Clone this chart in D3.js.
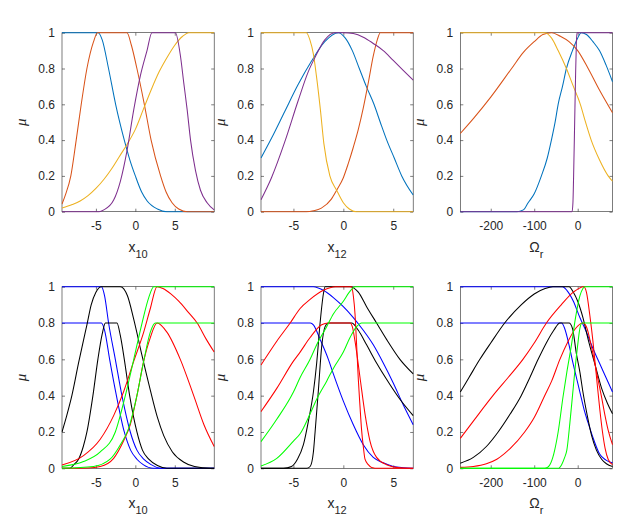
<!DOCTYPE html>
<html><head><meta charset="utf-8">
<script src="https://cdn.jsdelivr.net/npm/d3@7/dist/d3.min.js"></script>
<style>
body{margin:0;background:#fff}
svg text{font-family:"Liberation Sans",Arial,Helvetica,sans-serif;fill:#262626}
</style>
</head><body>
<svg id="c" width="633" height="530"></svg>
<script>
// ---------- axis settings ----------
const xDomainCol0 = [-9.3, 10];
const xDomainCol1 = [-8.25, 7];
const xDomainCol2 = [-270, 80];
const xTicksCol0 = [-5, 0, 5];
const xTicksCol1 = [-5, 0, 5];
const xTicksCol2 = [-200, -100, 0];
const yTicks = [0, 0.2, 0.4, 0.6, 0.8, 1];
const yTickLabels = ["0", "0.2", "0.4", "0.6", "0.8", "1"];
const xLabelMain = ["x", "x", "\u03A9"];
const xLabelSub = ["10", "12", "r"];
const yLabel = "\u03BC";

// ---------- top row, x10 ----------
const tl_blue = [[-9.3,1],[-4.7,1],[-4.2,0.96],[-3.4,0.8],[-2.5,0.6],[-1.4,0.4],[-0.7,0.29],[0,0.2],[0.8,0.11],[1.5,0.06],[2.8,0.015],[4,0],[10,0]];
const tl_orange = [[-9.3,0.043],[-8.9,0.09],[-8.18,0.2],[-7.5,0.4],[-6.86,0.6],[-6.14,0.8],[-5.3,0.95],[-4.8,1],[-1.06,1],[-0.5,0.93],[0.2,0.8],[1.14,0.6],[2.0,0.4],[3.2,0.2],[3.9,0.11],[4.66,0.05],[5.5,0.015],[6.6,0],[10,0]];
const tl_yellow = [[-9.3,0.02],[-8,0.04],[-7,0.06],[-6,0.09],[-5,0.13],[-4,0.18],[-3,0.24],[-2,0.31],[-1,0.38],[0,0.46],[1,0.57],[2,0.68],[3,0.78],[4,0.86],[5,0.93],[6,0.98],[6.8,1],[10,1]];
const tl_purple = [[-9.3,0],[-4.6,0],[-4.0,0.01],[-2.75,0.065],[-1.9,0.17],[-1.06,0.34],[-0.2,0.57],[0.64,0.76],[1.48,0.9],[2.1,1],[5.08,1],[5.72,0.87],[6.14,0.72],[6.57,0.57],[7.0,0.4],[7.63,0.23],[8.26,0.12],[9.1,0.05],[10,0.01]];

// ---------- top row, x12 ----------
const tm_blue = [[-8.25,0.3],[-7.2,0.41],[-5.87,0.56],[-4.53,0.71],[-3.2,0.84],[-1.86,0.95],[-0.5,1],[0.2,0.97],[0.9,0.9],[1.6,0.8],[2.3,0.7],[3.07,0.6],[3.7,0.5],[4.35,0.4],[5.1,0.3],[5.85,0.2],[7,0.093]];
const tm_orange = [[-8.25,0],[-3.7,0],[-3,0.005],[-2.2,0.02],[-1.2,0.07],[-0.67,0.12],[0,0.19],[0.5,0.27],[1.0,0.36],[1.5,0.46],[2.0,0.58],[2.5,0.72],[3.0,0.87],[3.4,0.96],[3.7,1],[7,1]];
const tm_yellow = [[-8.25,1],[-3.7,1],[-3.35,0.96],[-3.0,0.88],[-2.7,0.76],[-2.3,0.57],[-1.95,0.38],[-1.35,0.2],[-0.67,0.12],[0,0.05],[0.6,0.015],[1.3,0],[7,0]];
const tm_purple = [[-8.25,0.067],[-7.2,0.19],[-5.87,0.39],[-4.53,0.62],[-3.53,0.78],[-2.86,0.86],[-1.86,0.96],[-0.85,1],[0,1],[1,0.995],[2,0.975],[3,0.94],[4,0.9],[5,0.845],[6,0.79],[7,0.735]];

// ---------- top row, Omega_r ----------
const tr_blue = [[-270,0],[-140,0],[-125,0.01],[-114,0.05],[-100,0.1],[-83.5,0.2],[-70,0.3],[-60.5,0.4],[-52,0.5],[-45,0.6],[-35,0.7],[-26,0.8],[-12,0.9],[0,0.97],[8,1],[20,0.99],[35,0.95],[50,0.9],[65,0.82],[80,0.726]];
const tr_orange = [[-270,0.437],[-240,0.52],[-200,0.64],[-152,0.8],[-125,0.89],[-100,0.95],[-80,0.99],[-60,1],[-40,0.98],[-20,0.95],[0,0.9],[24,0.8],[50,0.68],[80,0.553]];
const tr_yellow = [[-270,1],[-76,1],[-60,0.97],[-45,0.9],[-26,0.8],[-10,0.7],[0,0.64],[6,0.6],[18,0.5],[31,0.4],[50,0.29],[70,0.2],[80,0.17]];
const tr_purple = [[-270,0],[-13,0],[-11,0.05],[-9,0.25],[-7,0.5],[-5,0.75],[-3,0.95],[-1.5,1],[80,1]];

// ---------- bottom row, x10 ----------
const bl_blue_hi = [[-9.3,1],[-4.3,1],[-3.9,0.95],[-3.39,0.8],[-2.54,0.6],[-1.7,0.4],[-0.64,0.2],[0.2,0.1],[1.06,0.05],[2,0.02],[3.2,0],[10,0]];
const bl_blue_lo = [[-9.3,0.8],[-4.3,0.8],[-3.9,0.76],[-3.26,0.6],[-2.4,0.4],[-1.4,0.2],[-0.6,0.1],[0.2,0.05],[1,0.02],[2.3,0],[10,0]];
const bl_black_hi = [[-9.3,0.2],[-8.7,0.29],[-8.05,0.4],[-7.2,0.58],[-6.5,0.72],[-6.14,0.79],[-5.6,0.9],[-5.0,0.97],[-4.3,1],[-1.9,1],[-1,0.95],[-0.2,0.82],[0.85,0.62],[1.9,0.43],[2.8,0.28],[3.6,0.18],[4.7,0.09],[6.1,0.035],[7.5,0.01],[9.5,0],[10,0]];
const bl_black_lo = [[-9.3,0],[-8.3,0],[-7.8,0.02],[-7.2,0.05],[-6.6,0.12],[-6.14,0.2],[-5.38,0.4],[-4.75,0.6],[-4.2,0.74],[-3.8,0.8],[-2.33,0.8],[-1.9,0.73],[-1.4,0.6],[-0.72,0.4],[0.2,0.2],[0.9,0.1],[1.7,0.05],[2.8,0.015],[4,0],[10,0]];
const bl_red_hi = [[-9.3,0.018],[-6.57,0.07],[-4.45,0.16],[-2.75,0.29],[-1.5,0.42],[-0.2,0.59],[1.06,0.75],[1.9,0.88],[2.75,1],[3.5,0.99],[4.5,0.96],[5.5,0.92],[6.7,0.86],[7.84,0.8],[9,0.71],[10,0.64]];
const bl_red_lo = [[-9.3,0],[-6,0.002],[-4.45,0.01],[-2.75,0.055],[-1.5,0.15],[-0.64,0.24],[0.2,0.4],[1.06,0.59],[1.9,0.72],[2.75,0.8],[4,0.75],[5.7,0.6],[7.4,0.4],[8.7,0.24],[10,0.12]];
const bl_green_hi = [[-9.3,0.01],[-6.57,0.037],[-4.45,0.09],[-2.54,0.2],[-1.27,0.4],[-0.2,0.6],[0.85,0.8],[1.7,0.94],[2.33,1],[10,1]];
const bl_green_lo = [[-9.3,0],[-5.3,0.01],[-3.2,0.05],[-1.9,0.13],[-0.85,0.22],[0.2,0.4],[1.06,0.59],[1.9,0.75],[2.54,0.8],[10,0.8]];

// ---------- bottom row, x12 ----------
const bm_blue_hi = [[-8.25,1],[-3.0,1],[-2,0.98],[-1,0.94],[0,0.89],[1,0.83],[2,0.76],[3,0.68],[4,0.58],[5,0.47],[6,0.35],[7,0.24]];
const bm_blue_lo = [[-8.25,0.8],[-3.3,0.8],[-3,0.79],[-2.33,0.71],[-1.5,0.6],[-1,0.52],[0,0.37],[1,0.24],[2,0.13],[3,0.06],[4,0.03],[5,0.01],[6,0.003],[7,0]];
const bm_black_hi = [[-8.25,0],[-6,0],[-5.2,0.01],[-4.6,0.05],[-4,0.13],[-3.5,0.26],[-3,0.42],[-2.67,0.58],[-2.33,0.8],[-2,0.96],[-1.83,1],[0.67,1],[1.5,0.97],[2.33,0.89],[3.33,0.8],[4.33,0.71],[5.67,0.6],[7,0.52]];
const bm_black_lo = [[-8.25,0],[-3.67,0],[-3.33,0.01],[-3,0.09],[-2.83,0.2],[-2.5,0.43],[-2.17,0.67],[-1.83,0.78],[-1.5,0.8],[0.83,0.8],[1.5,0.76],[2.33,0.68],[3.33,0.58],[4.33,0.49],[5.67,0.38],[7,0.29]];
const bm_red_hi = [[-8.25,0.569],[-6.67,0.7],[-5.33,0.8],[-4.33,0.88],[-3.33,0.93],[-2,0.98],[-0.8,1],[0.83,1],[1.0,0.95],[1.17,0.85],[1.33,0.68],[1.5,0.49],[1.67,0.34],[1.83,0.21],[2.0,0.12],[2.17,0.05],[2.5,0.02],[2.83,0.005],[3.5,0],[7,0]];
const bm_red_lo = [[-8.25,0.312],[-6.67,0.44],[-5,0.59],[-4.33,0.64],[-3.33,0.72],[-2.17,0.79],[-1.5,0.8],[0.67,0.8],[0.9,0.78],[1.17,0.7],[1.67,0.5],[2.17,0.3],[2.67,0.15],[3.33,0.06],[4.33,0.02],[5.67,0.003],[7,0]];
const bm_green_hi = [[-8.25,0.147],[-6.67,0.27],[-5,0.42],[-4.33,0.5],[-3.33,0.6],[-2.67,0.68],[-1.67,0.78],[-1,0.85],[0,0.92],[0.6,0.97],[1.2,1],[7,1]];
const bm_green_lo = [[-8.25,0.013],[-6.67,0.055],[-5,0.15],[-4.33,0.19],[-3.33,0.3],[-2.67,0.38],[-1.67,0.48],[-1,0.55],[0,0.64],[0.67,0.72],[1.33,0.78],[1.83,0.8],[7,0.8]];

// ---------- bottom row, Omega_r ----------
const br_blue_hi = [[-270,1],[-35,1],[-25,0.98],[-10,0.92],[5,0.83],[20,0.75],[35,0.66],[50,0.58],[65,0.5],[80,0.42]];
const br_blue_lo = [[-270,0.8],[-37,0.8],[-30,0.77],[-20,0.68],[-11,0.58],[-3,0.5],[5,0.42],[15,0.32],[24,0.25],[35,0.17],[50,0.08],[65,0.045],[80,0.03]];
const br_black_hi = [[-270,0.42],[-250,0.5],[-225,0.6],[-200,0.69],[-168,0.8],[-130,0.9],[-100,0.96],[-75,0.99],[-57,1],[-20,1],[-10,0.97],[0,0.92],[12,0.83],[25,0.7],[40,0.57],[55,0.44],[68,0.36],[80,0.3]];
const br_black_lo = [[-270,0.028],[-240,0.06],[-210,0.12],[-183,0.2],[-155,0.3],[-130,0.4],[-110,0.5],[-91,0.6],[-70,0.7],[-55,0.76],[-41,0.8],[-20,0.8],[-12,0.77],[-3,0.63],[5,0.53],[12,0.42],[22,0.29],[32,0.18],[43,0.1],[55,0.05],[66,0.025],[80,0.01]];
const br_red_hi = [[-270,0.165],[-240,0.26],[-195,0.4],[-160,0.5],[-126,0.6],[-100,0.69],[-72,0.8],[-38,0.9],[-10,0.97],[14,1],[20,0.97],[28,0.84],[35,0.7],[40,0.58],[45,0.46],[51,0.32],[57,0.2],[63,0.11],[70,0.05],[80,0.02]];
const br_red_lo = [[-270,0.005],[-240,0.01],[-210,0.025],[-186,0.05],[-155,0.11],[-122,0.2],[-100,0.28],[-76,0.4],[-60,0.48],[-41,0.6],[-22,0.7],[-5,0.77],[12,0.8],[20,0.78],[31.5,0.67],[45,0.51],[55,0.39],[62,0.3],[70,0.21],[80,0.13]];
const br_green_hi = [[-270,0],[-80,0],[-70,0.005],[-64,0.02],[-55,0.08],[-45,0.2],[-34,0.39],[-25,0.53],[-15,0.67],[-5,0.83],[5,0.95],[12,0.99],[16,1],[80,1]];
const br_green_lo = [[-270,0],[-45,0],[-37,0.02],[-30,0.06],[-25,0.1],[-18,0.25],[-12,0.4],[-6,0.55],[0,0.68],[5,0.77],[10,0.8],[80,0.8]];

// ---------- colours ----------
const topColors = {blue:"#0072BD", orange:"#D95319", yellow:"#EDB120", purple:"#7E2F8E"};
const botColors = {blue:"#0000FF", black:"#000000", red:"#FF0000", green:"#00FF00"};

// ---------- layout ----------
const colX = [62, 261, 460.3];
const colW = 152.2;
const rowY = [32.7, 286.7];
const rowH = [179, 181.6];

const panels = [
  {r:0,c:0, dom:xDomainCol0, ticks:xTicksCol0, series:[[tl_blue,topColors.blue],[tl_orange,topColors.orange],[tl_yellow,topColors.yellow],[tl_purple,topColors.purple]]},
  {r:0,c:1, dom:xDomainCol1, ticks:xTicksCol1, series:[[tm_blue,topColors.blue],[tm_orange,topColors.orange],[tm_yellow,topColors.yellow],[tm_purple,topColors.purple]]},
  {r:0,c:2, dom:xDomainCol2, ticks:xTicksCol2, series:[[tr_blue,topColors.blue],[tr_orange,topColors.orange],[tr_yellow,topColors.yellow],[tr_purple,topColors.purple]]},
  {r:1,c:0, dom:xDomainCol0, ticks:xTicksCol0, series:[[bl_blue_hi,botColors.blue],[bl_blue_lo,botColors.blue],[bl_black_hi,botColors.black],[bl_black_lo,botColors.black],[bl_red_hi,botColors.red],[bl_red_lo,botColors.red],[bl_green_hi,botColors.green],[bl_green_lo,botColors.green]]},
  {r:1,c:1, dom:xDomainCol1, ticks:xTicksCol1, series:[[bm_blue_hi,botColors.blue],[bm_blue_lo,botColors.blue],[bm_black_hi,botColors.black],[bm_black_lo,botColors.black],[bm_red_hi,botColors.red],[bm_red_lo,botColors.red],[bm_green_hi,botColors.green],[bm_green_lo,botColors.green]]},
  {r:1,c:2, dom:xDomainCol2, ticks:xTicksCol2, series:[[br_blue_hi,botColors.blue],[br_blue_lo,botColors.blue],[br_black_hi,botColors.black],[br_black_lo,botColors.black],[br_red_hi,botColors.red],[br_red_lo,botColors.red],[br_green_hi,botColors.green],[br_green_lo,botColors.green]]}
];

const svg = d3.select("#c");
svg.append("rect").attr("width",633).attr("height",530).attr("fill","#fff");
const axisCol = "#262626";

panels.forEach((p,i)=>{
  const x0 = colX[p.c], y0 = rowY[p.r], w = colW, h = rowH[p.r];
  const x = d3.scaleLinear().domain(p.dom).range([x0, x0+w]);
  const y = d3.scaleLinear().domain([0,1]).range([y0+h, y0]);
  const g = svg.append("g");

  // box
  g.append("rect").attr("x",x0).attr("y",y0).attr("width",w).attr("height",h)
    .attr("fill","#fff").attr("stroke",axisCol).attr("stroke-width",0.6);

  // axes via d3 (ticks inward), labels
  const xb = g.append("g").attr("transform",`translate(0,${y0+h})`)
    .call(d3.axisBottom(x).tickValues(p.ticks).tickSize(-3).tickPadding(10).tickFormat(d3.format("d")));
  const xt = g.append("g").attr("transform",`translate(0,${y0})`)
    .call(d3.axisTop(x).tickValues(p.ticks).tickSize(-3).tickFormat(""));
  const yl = g.append("g").attr("transform",`translate(${x0},0)`)
    .call(d3.axisLeft(y).tickValues(yTicks).tickSize(-3).tickPadding(7).tickFormat((d,k)=>yTickLabels[k]));
  const yr = g.append("g").attr("transform",`translate(${x0+w},0)`)
    .call(d3.axisRight(y).tickValues(yTicks).tickSize(-3).tickFormat(""));
  [xb,xt,yl,yr].forEach(a=>{
    a.select(".domain").remove();
    a.selectAll(".tick line").attr("stroke",axisCol).attr("stroke-width",0.6);
    a.selectAll(".tick text").attr("fill",axisCol).style("font-size","12px")
      .style("font-family","'Liberation Sans',Arial,sans-serif");
  });
  xb.selectAll(".tick text").attr("dy","0.71em").attr("y",10);
  xb.selectAll(".tick text").text(d=>String(d).replace("\u2212","-"));

  // clip
  const cid = "clip"+i;
  svg.append("clipPath").attr("id",cid).append("rect")
    .attr("x",x0-0.5).attr("y",y0-1).attr("width",w+1).attr("height",h+2);

  const line = d3.line().x(d=>x(d[0])).y(d=>y(d[1])).curve(d3.curveMonotoneX);
  const lg = g.append("g").attr("clip-path",`url(#${cid})`);
  p.series.forEach(([data,col])=>{
    lg.append("path").datum(data).attr("d",line).attr("fill","none")
      .attr("stroke",col).attr("stroke-width",1.05);
  });

  // x label with subscript
  const lbl = g.append("text").attr("x",x0+w/2).attr("y",y0+h+40)
    .attr("text-anchor","middle").style("font-size","14px").attr("fill",axisCol);
  lbl.append("tspan").text(xLabelMain[p.c]);
  lbl.append("tspan").attr("dy",6).style("font-size","11px").text(xLabelSub[p.c]);

  // y label
  g.append("text").attr("transform",`translate(${x0-36},${y0+h/2}) rotate(-90)`)
    .attr("text-anchor","middle").style("font-size","15px").style("font-style","italic")
    .style("font-family","'Liberation Serif','DejaVu Serif',serif").attr("fill",axisCol)
    .text(yLabel);
});
</script>
</body></html>
